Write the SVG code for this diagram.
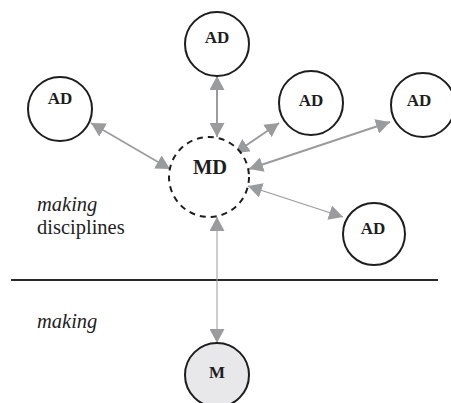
<svg xmlns="http://www.w3.org/2000/svg" width="451" height="403" viewBox="0 0 451 403">
  <style>
    .node { fill: #ffffff; stroke: #1e1e1e; stroke-width: 2; }
    .dashed { stroke-dasharray: 6 5; }
    .sub { fill: #e8e8ea; }
    .label { font-family: "Liberation Serif", "Times New Roman", serif; font-weight: bold; fill: #1e1e1e; text-anchor: middle; }
    .caption { font-family: "Liberation Serif", "Times New Roman", serif; font-size: 20.5px; fill: #1e1e1e; }
    .link { stroke: #9a9b9d; fill: none; marker-start: url(#head); marker-end: url(#head); }
  </style>
  <defs>
    <marker id="head" markerUnits="userSpaceOnUse" markerWidth="15" markerHeight="15" refX="14" refY="7.5" orient="auto-start-reverse">
      <path d="M0,0 L14,7.5 L0,15 Z" fill="#9a9b9d"/>
    </marker>
  </defs>

  <rect width="451" height="403" fill="#ffffff"/>

  <!-- divider between the two levels -->
  <line x1="11" y1="280" x2="438" y2="280" stroke="#2a2a2a" stroke-width="1.8"/>

  <text class="caption" x="37" y="211" font-style="italic">making</text>
  <text class="caption" x="37" y="234">disciplines</text>
  <text class="caption" x="37" y="328" font-style="italic">making</text>

  <g id="connectors">
    <line class="link" x1="217" y1="76" x2="217" y2="137" stroke-width="2"/>
    <line class="link" x1="91" y1="123" x2="170" y2="169" stroke-width="1.6"/>
    <line class="link" x1="279" y1="123" x2="235" y2="153" stroke-width="2"/>
    <line class="link" x1="390" y1="122" x2="249" y2="169" stroke-width="2"/>
    <line class="link" x1="343" y1="217" x2="248" y2="186" stroke-width="1.3"/>
    <line class="link" x1="217" y1="217" x2="217" y2="343" stroke="#b4b5b7" stroke-width="1"/>
  </g>

  <g id="ad-top">
    <circle class="node" cx="217" cy="44" r="32"/>
    <text class="label" x="217" y="43" font-size="17">AD</text>
  </g>
  <g id="ad-left">
    <circle class="node" cx="60" cy="109" r="32"/>
    <text class="label" x="60" y="104" font-size="17">AD</text>
  </g>
  <g id="ad-right">
    <circle class="node" cx="311" cy="103" r="32"/>
    <text class="label" x="311" y="106" font-size="17">AD</text>
  </g>
  <g id="ad-far-right">
    <circle class="node" cx="423" cy="105" r="32"/>
    <text class="label" x="419" y="106" font-size="17">AD</text>
  </g>
  <g id="ad-lower-right">
    <circle class="node" cx="374" cy="234" r="31"/>
    <text class="label" x="373" y="234" font-size="17">AD</text>
  </g>
  <g id="md">
    <circle class="node dashed" cx="209" cy="177" r="40"/>
    <text class="label" x="210" y="174" font-size="20.5">MD</text>
  </g>
  <g id="m">
    <circle class="node sub" cx="217" cy="375" r="32"/>
    <text class="label" x="217" y="378" font-size="17">M</text>
  </g>
</svg>
